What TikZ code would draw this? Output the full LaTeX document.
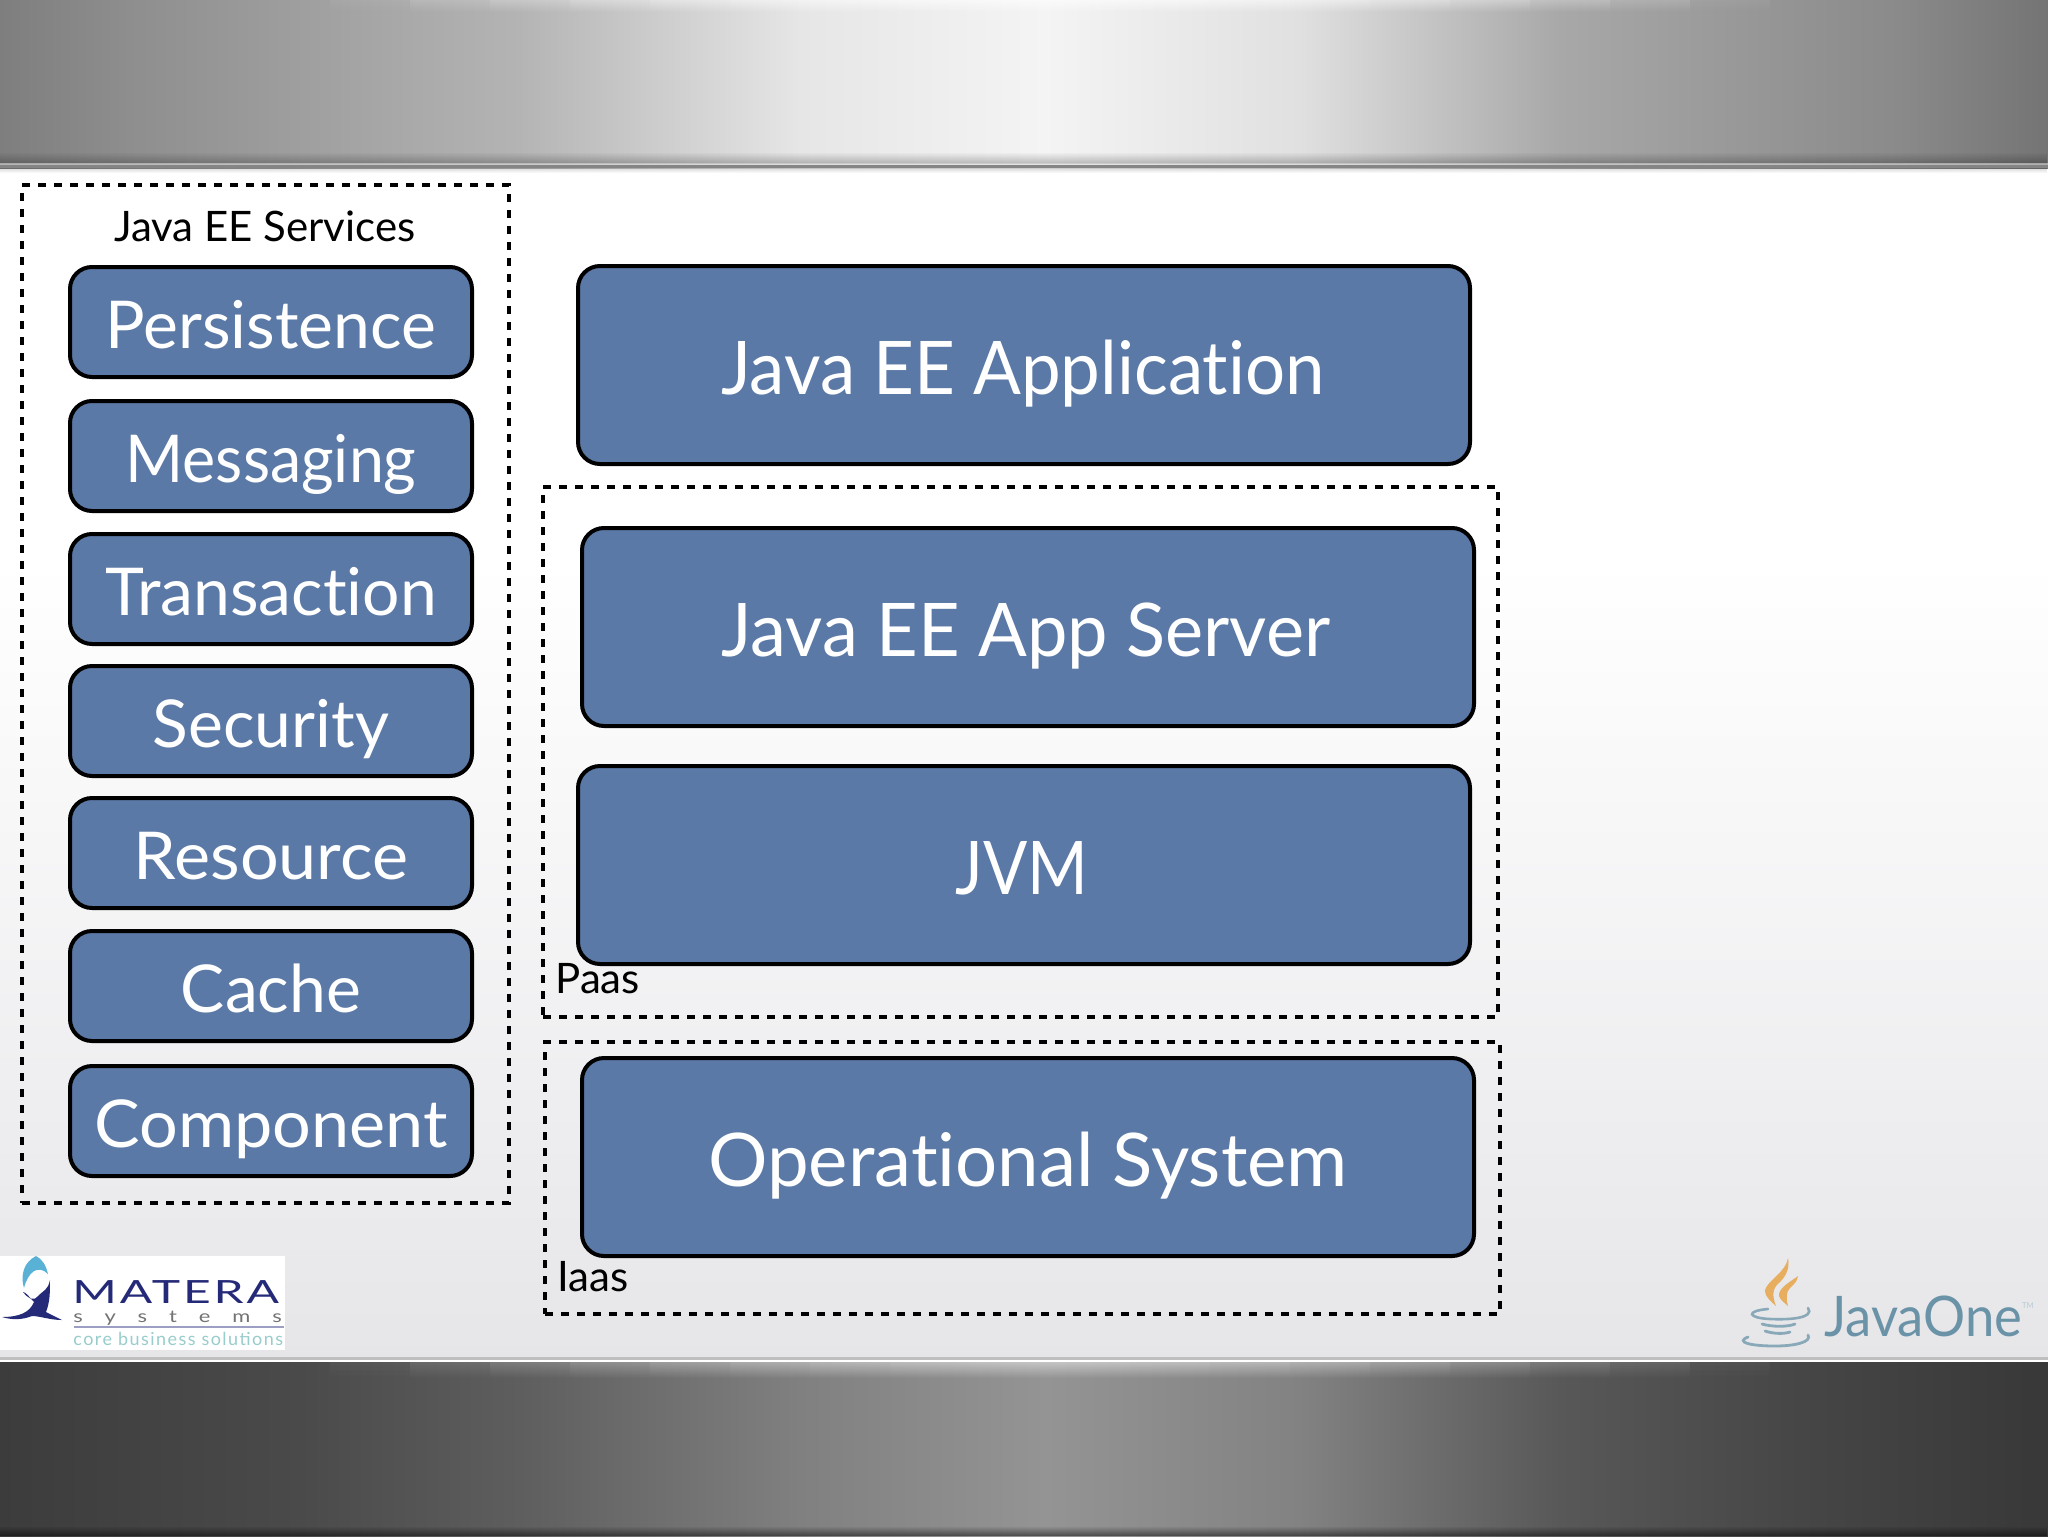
\documentclass[tikz,border=0pt]{standalone}
\usepackage{fontspec}
\setmainfont{Lato}[Ligatures=NoCommon]
\newcommand{\szf}[1]{\fontsize{#1}{#1}\selectfont}
\newcommand{\sxt}[2]{\scalebox{#1}[1]{#2}}
\usetikzlibrary{fadings}
\definecolor{boxblue}{HTML}{5B79A6}
\definecolor{navy}{HTML}{252A78}
\definecolor{jblue}{HTML}{6B93A8}
\definecolor{flame}{HTML}{E6AE5E}
\tikzset{
  x=0.5pt,y=-0.5pt,
  svc/.style={draw=black,line width=2pt,fill=boxblue,rounded corners=11pt,text=white,minimum width=201pt,minimum height=55pt,inner sep=0pt,text height=34.5pt,text depth=8pt,font=\szf{33}},
  big/.style={draw=black,line width=2pt,fill=boxblue,rounded corners=11pt,text=white,minimum width=446pt,minimum height=99pt,inner sep=0pt,text height=39.5pt,text depth=10pt,font=\szf{37}},
  dashframe/.style={draw=black,line width=1.6pt,dash pattern=on 4pt off 4pt,inner sep=0pt},
  caption/.style={text=black,inner sep=0pt,font=\szf{21}},
}
\begin{document}
\begin{tikzpicture}
\useasboundingbox (0,0) rectangle (2048,1536);
% background
\fill[white] (0,0) rectangle (2048,560);
\shade[top color=white,bottom color={rgb,255:red,230;green,230;blue,233}] (0,560) rectangle (2048,1362);
% top band
\foreach \xa/\xb/\ca/\cb in {0/130/126/142,130/520/142/180,520/800/180/230,800/1045/230/244,1045/1300/244/224,1300/1560/224/168,1560/1900/168/138,1900/2048/138/116}
  \shade[left color={rgb,255:red,\ca;green,\ca;blue,\ca},right color={rgb,255:red,\cb;green,\cb;blue,\cb}] (\xa-.5,0) rectangle (\xb+.5,168);
\foreach \xa in {0,1,...,17} {
  \pgfmathsetmacro{\op}{.6*sin(\xa*10+5)}
  \fill[white,opacity=\op,path fading=south] (\xa*80+330,0) rectangle (\xa*80+410,12);
}
\fill[black,opacity=.25,path fading=north] (0,152) rectangle (2048,164);
\fill[black!15,opacity=.6] (0,163) rectangle (2048,165);
\fill[black!48] (0,165) rectangle (2048,168);
\fill[black,opacity=.15,path fading=south] (0,168) rectangle (2048,173);
% bottom band
\foreach \xa/\xb/\ca/\cb in {0/300/60/74,300/520/74/94,520/800/94/128,800/1045/128/148,1045/1300/148/130,1300/1560/130/88,1560/1800/88/70,1800/2048/70/56}
  \shade[left color={rgb,255:red,\ca;green,\ca;blue,\ca},right color={rgb,255:red,\cb;green,\cb;blue,\cb}] (\xa-.5,1362) rectangle (\xb+.5,1536);
\foreach \xa in {0,1,...,17} {
  \pgfmathsetmacro{\op}{.45*sin(\xa*10+5)}
  \fill[white,opacity=\op,path fading=south] (\xa*80+330,1362) rectangle (\xa*80+410,1378);
}
\fill[black,opacity=.5,path fading=north] (0,1526) rectangle (2048,1536);
\fill[black!25] (0,1357) rectangle (2048,1360);
\fill[white] (0,1360) rectangle (2048,1362);
% frames
\node[dashframe,minimum width=243.5pt,minimum height=509pt] (svcframe) at (265.5,694) {};
\node[dashframe,minimum width=477.5pt,minimum height=265pt] (paas) at (1020.5,752) {};
\node[dashframe,minimum width=477.5pt,minimum height=136pt] (iaas) at (1022.5,1178) {};
% texts of frames
\node[caption] (svctitle) at (265,226) {Java EE Services};
\node[caption,anchor=base west] (paaslabel) at (555,993) {Paas};
\node[caption,anchor=base west] (iaaslabel) at (557,1291) {Iaas};
% services
\node[svc] (persist) at (271,322) {Persistence};
\node[svc] (msg) at (271,456) {\sxt{.95}{Messaging}};
\node[svc] (trans) at (271,589) {\sxt{1}{Transaction}};
\node[svc] (sec) at (271,721) {Security};
\node[svc] (res) at (271,853) {\sxt{1.035}{Resource}};
\node[svc] (cache) at (271,986) {Cache};
\node[svc] (comp) at (271,1121) {\sxt{1.035}{Component}};
% stack
\node[big] (app) at (1024,365) {\hspace*{-1pt}\sxt{.957}{Java EE Application}};
\node[big] (server) at (1028,627) {\hspace*{-2pt}\sxt{.975}{Java EE App Server}};
\node[big] (jvm) at (1024,865) {\hspace*{-2pt}\sxt{.884}{JVM}};
\node[big] (os) at (1028,1157) {\sxt{1.005}{Operational System}};
% Matera logo
\fill[white] (0,1256) rectangle (285,1350);
\fill[cyan!60!teal!75] (36,1256) .. controls (24,1262) and (20,1275) .. (24,1288) .. controls (28,1272) and (38,1264) .. (48,1274) .. controls (46,1265) and (42,1259) .. (36,1256) -- cycle;
\fill[navy] (2,1317) .. controls (20,1317) and (30,1312) .. (34,1302) .. controls (30,1298) and (26,1292) .. (23,1292) .. controls (28,1298) and (33,1302) .. (38,1296) .. controls (44,1290) and (48,1290) .. (50,1280) .. controls (50,1292) and (50,1302) .. (46,1312) .. controls (52,1315) and (58,1318) .. (62,1320) .. controls (50,1320) and (40,1316) .. (32,1316) .. controls (22,1320) and (12,1320) .. (2,1317) -- cycle;
\node[anchor=base west,inner sep=0pt,text=navy] (matera) at (72,1303) {\fontspec{Lato}[LetterSpace=6]\szf{16}\scalebox{1.5}[1]{MATERA}};
\node[anchor=base west,inner sep=0pt,text=black!55] (systems) at (73,1322) {\fontspec{Lato}[LetterSpace=100]\szf{8.5}\scalebox{1.29}[1]{systems}};
\coordinate (ruleA) at (74,1327);
\coordinate (ruleB) at (284,1327);
\draw[color=navy!45,line width=.6pt] (ruleA) -- (ruleB);
\node[anchor=base west,inner sep=0pt,text=teal!40] (core) at (73,1345) {\fontspec{Lato}[LetterSpace=8]\szf{9}core business solutions};
% JavaOne logo
\fill[flame] (1788,1258) .. controls (1786,1272) and (1768,1280) .. (1765,1290) .. controls (1765,1298) and (1772,1302) .. (1776,1306) .. controls (1772,1296) and (1772,1288) .. (1780,1282) .. controls (1786,1276) and (1790,1268) .. (1788,1258) -- cycle;
\fill[flame] (1798,1276) .. controls (1790,1282) and (1778,1288) .. (1779,1296) .. controls (1780,1300) and (1786,1304) .. (1788,1306) .. controls (1786,1298) and (1786,1292) .. (1790,1288) .. controls (1794,1284) and (1797,1282) .. (1798,1276) -- cycle;
\draw[color=jblue!80,line width=1.3pt,line cap=round] (1768,1309) .. controls (1745,1311) and (1748,1318) .. (1770,1319) .. controls (1790,1320) and (1815,1318) .. (1808,1308);
\draw[color=jblue!80,line width=1.4pt,line cap=round] (1762,1324) .. controls (1772,1327) and (1788,1327) .. (1795,1324);
\draw[color=jblue!80,line width=1.4pt,line cap=round] (1765,1331) .. controls (1774,1334) and (1784,1334) .. (1790,1332);
\draw[color=jblue!80,line width=1.4pt,line cap=round] (1748,1337) .. controls (1735,1342) and (1750,1346) .. (1775,1346) .. controls (1795,1346) and (1812,1342) .. (1808,1335);
\node[anchor=base west,inner sep=0pt,text=jblue] (javaone) at (1824,1336) {\scalebox{.94}[1]{\szf{28}JavaOne\raisebox{14pt}{\textcolor{jblue!50}{\szf{4}TM}}}};
\end{tikzpicture}
\end{document}
